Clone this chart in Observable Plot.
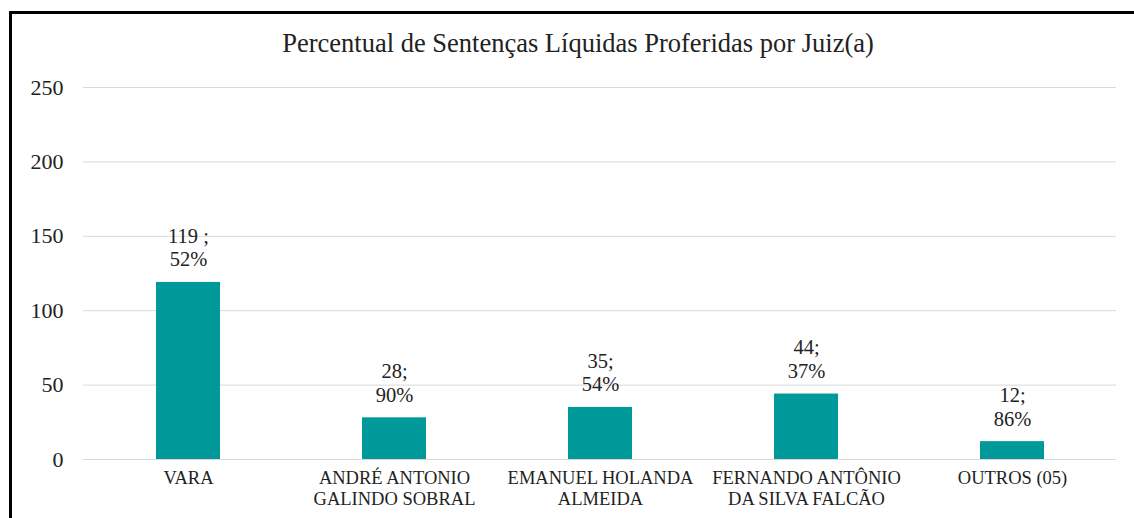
<!DOCTYPE html>
<html>
<head>
<meta charset="utf-8">
<script src="https://cdn.jsdelivr.net/npm/d3@7"></script>
<script src="https://cdn.jsdelivr.net/npm/@observablehq/plot@0.6"></script>
<style>
  html, body { margin: 0; padding: 0; background: #fff; }
  #wrap { position: relative; width: 1134px; height: 518px; overflow: hidden; }
  #frame { position: absolute; left: 9px; top: 11px; width: 1200px; height: 600px;
           border-left: 3px solid #000; border-top: 3px solid #000; }
  #title { position: absolute; left: 0; width: 1156px; top: 28px; text-align: center;
           font-family: 'Liberation Serif', 'DejaVu Serif', serif; font-size: 26.5px; color: #222; }
  #chart { position: absolute; left: 0; top: 0; }
</style>
</head>
<body>
<div id="wrap">
  <div id="frame"></div>
  <div id="chart"></div>
  <div id="title">Percentual de Sentenças Líquidas Proferidas por Juiz(a)</div>
</div>
<script>
const juizes = ["VARA", "ANDRÉ ANTONIO\nGALINDO SOBRAL", "EMANUEL HOLANDA\nALMEIDA", "FERNANDO ANTÔNIO\nDA SILVA FALCÃO", "OUTROS (05)"];
const sentencas = [119, 28, 35, 44, 12];
const separadores = [" ;", ";", ";", ";", ";"];
const percentuais = ["52%", "90%", "54%", "37%", "86%"];
const yTicks = [0, 50, 100, 150, 200, 250];

const data = juizes.map((j, i) => ({
  juiz: j,
  valor: sentencas[i],
  rotulo: sentencas[i] + separadores[i] + "\n" + percentuais[i]
}));

const chart = Plot.plot({
  width: 1134,
  height: 518,
  marginLeft: 83,
  marginRight: 18,
  marginTop: 87,
  marginBottom: 59,
  style: { fontFamily: "'Liberation Serif', 'DejaVu Serif', serif", fontSize: "20px", color: "#222", background: "transparent" },
  x: { domain: juizes, paddingInner: 0.69, paddingOuter: 0.345, label: null },
  y: { domain: [0, 250], label: null },
  marks: [
    Plot.gridY(yTicks, { stroke: "#d9d9d9", strokeOpacity: 1, strokeWidth: 1 }),
    Plot.axisY(yTicks, { tickSize: 0, tickPadding: 20, label: null, fontSize: 22, fill: "#222" }),
    Plot.axisX({ tickSize: 0, tickPadding: 10, label: null, fontSize: 18.5, lineHeight: 1.12, fill: "#222" }),
    Plot.barY(data, { x: "juiz", y: "valor", fill: "#009999" }),
    Plot.text(data, { x: "juiz", y: "valor", text: "rotulo", lineAnchor: "bottom", dy: -16, fontSize: 20.5, lineHeight: 1.15, fill: "#222" })
  ]
});
document.getElementById("chart").appendChild(chart);
</script>
</body>
</html>
